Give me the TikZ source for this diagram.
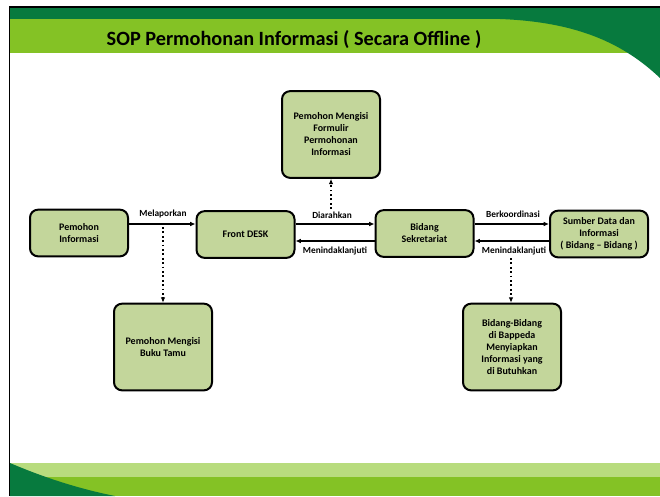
\documentclass[tikz,border=0pt]{standalone}
\usepackage{fontspec}
\setmainfont{Carlito}
\usetikzlibrary{arrows.meta}
\definecolor{dkgreen}{HTML}{077A3E}
\definecolor{ltgreen}{HTML}{84C225}
\definecolor{pale}{HTML}{B8DC7E}
\definecolor{boxfill}{HTML}{C3D69B}
\tikzset{
  box/.style={draw=black, line width=1.5pt, rounded corners=6pt, fill=boxfill,
    align=center, font=\fontsize{7.5}{9}\selectfont\bfseries,
    minimum width=73.5pt, inner sep=2pt},
  smallbox/.style={box, minimum height=35pt},
  tallbox/.style={box, minimum height=65pt},
  arr/.style={line width=0.9pt, -{Latex[length=4pt,width=3.5pt]}},
  dotarr/.style={line width=1.3pt, dotted, -{Latex[length=4pt,width=3.5pt]}},
  lbl/.style={font=\fontsize{7}{8}\selectfont\bfseries, inner sep=1pt}
}
\begin{document}
\begin{tikzpicture}[x=0.75pt,y=-0.75pt]
\useasboundingbox (0,0) rectangle (660,496);
\fill[white] (0,0) rectangle (660,496);
% top band
\fill[dkgreen] (9,7) rectangle (660,19);
\fill[ltgreen] (10,19) rectangle (660,53);
\fill[dkgreen] (500,19) .. controls (580,22) and (625,45) .. (660,78) -- (660,19) -- cycle;
\draw[line width=1pt] (9,7) -- (660,7);
% bottom band
\fill[pale] (10,463) rectangle (660,477);
\fill[ltgreen] (10,477) rectangle (660,496);
\fill[dkgreen] (10,463) .. controls (45,478) and (80,489) .. (115,496) -- (10,496) -- cycle;
\draw[line width=1.2pt] (9.5,7) -- (9.5,496);
% title
\node[font=\fontsize{15.2}{17}\selectfont\bfseries, anchor=base] (title) at (294,45) {SOP Permohonan Informasi ( Secara Offline )};
% nodes
\node[smallbox] (pem) at (79,233) {Pemohon\\Informasi};
\node[smallbox] (fd) at (245.5,234.5) {Front DESK};
\node[smallbox] (bs) at (424.5,233.5) {Bidang\\Sekretariat};
\node[smallbox] (sd) at (599,234) {Sumber Data dan\\Informasi\\( Bidang -- Bidang )};
\node[tallbox] (form) at (331,134.5) {Pemohon Mengisi\\Formulir\\Permohonan\\Informasi};
\node[tallbox] (buku) at (163,347) {Pemohon Mengisi\\Buku Tamu};
\node[tallbox] (bb) at (512,347) {Bidang-Bidang\\di Bappeda\\Menyiapkan\\Informasi yang\\di Butuhkan};
% level coordinates
\coordinate (ytop) at (0,224);
\coordinate (ybot) at (0,241);
\coordinate (m1) at (163,227);
\coordinate (d1) at (331,209);
\coordinate (m2) at (511,258);
% connectors
\draw[arr] (pem.east |- ytop) -- (fd.west |- ytop);
\draw[arr] (fd.east |- ytop) -- (bs.west |- ytop);
\draw[arr] (bs.west |- ybot) -- (fd.east |- ybot);
\draw[arr] (bs.east |- ytop) -- (sd.west |- ytop);
\draw[arr] (sd.west |- ybot) -- (bs.east |- ybot);
\draw[dotarr] (m1) -- (m1 |- buku.north);
\draw[dotarr] (d1) -- (d1 |- form.south);
\draw[dotarr] (m2) -- (m2 |- bb.north);
% labels
\node[lbl] (l1) at (163,214) {Melaporkan};
\node[lbl] (l2) at (332,215) {Diarahkan};
\node[lbl] (l3) at (335,251) {Menindaklanjuti};
\node[lbl] (l4) at (513,214) {Berkoordinasi};
\node[lbl] (l5) at (514,251) {Menindaklanjuti};
\end{tikzpicture}
\end{document}
